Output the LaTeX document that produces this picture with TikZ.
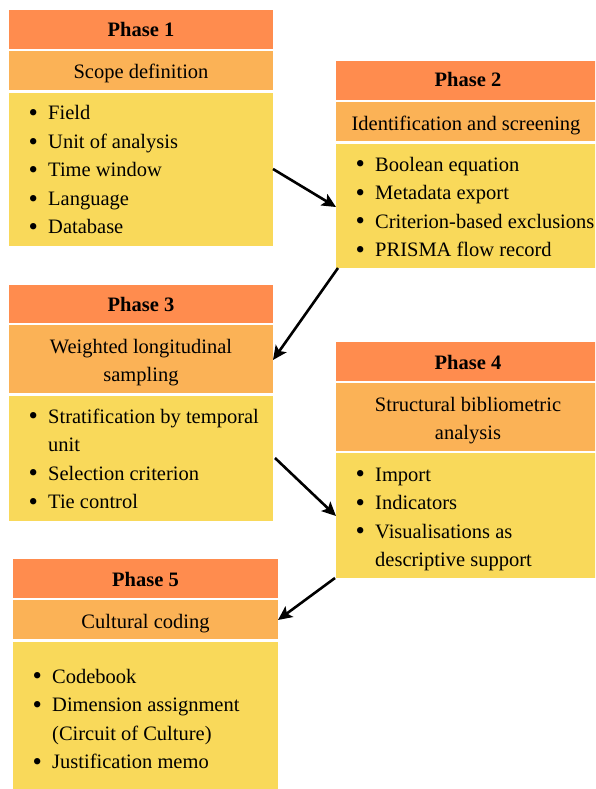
\documentclass[tikz,border=0pt]{standalone}
\usepackage{fontspec}
\setmainfont{Liberation Serif}
\usetikzlibrary{arrows.meta,calc}
\definecolor{hdrc}{RGB}{255,140,78}
\definecolor{subc}{RGB}{251,178,86}
\definecolor{bodc}{RGB}{249,217,90}
\newcommand\mybul{\makebox[19.5pt][l]{\raisebox{-1.8pt}{\scalebox{1.3}{\textbullet}}}}
\newcommand\myind{\hspace*{19.5pt}}
\begin{document}
\begin{tikzpicture}[x=1pt,y=-1pt,
  rect/.style={inner sep=0pt,outer sep=0pt,anchor=north west,draw=none},
  hdr/.style={rect,fill=hdrc},
  sub/.style={rect,fill=subc},
  bod/.style={rect,fill=bodc},
  ttl/.style={anchor=base,inner sep=0pt,font=\fontsize{20.5}{24}\selectfont\bfseries},
  stl/.style={anchor=base,inner sep=0pt,font=\fontsize{20.5}{28}\selectfont},
  lst/.style={anchor=base west,inner sep=0pt,font=\fontsize{20.5}{28.5}\selectfont},
  arr/.style={line width=2.6pt,-{Stealth[length=14pt,width=13pt,inset=3pt]}}]
\useasboundingbox (0,0) rectangle (595,789);
\clip (0,0) rectangle (595,789);
% Phase 1
\node[hdr,minimum width=264pt,minimum height=39pt] (p1h) at (9,10) {};
\node[sub,minimum width=264pt,minimum height=39pt] (p1s) at (9,51) {};
\node[bod,minimum width=264pt,minimum height=153pt] (p1b) at (9,93) {};
\node[ttl] (p1ht) at (141,37) {Phase 1};
\node[stl] (p1st) at (141,79) {Scope definition};
\node[lst] (p1bt) at (28.5,120) {\begin{tabular}[t]{@{}l@{}}
\mybul Field\\ \mybul Unit of analysis\\ \mybul Time window\\ \mybul Language\\ \mybul Database\end{tabular}};
% Phase 2
\node[hdr,minimum width=264pt,minimum height=39pt] (p2h) at (336,61) {};
\node[sub,minimum width=264pt,minimum height=39pt] (p2s) at (336,102) {};
\node[bod,minimum width=264pt,minimum height=124pt] (p2b) at (336,144) {};
\node[ttl] (p2ht) at (468,87) {Phase 2};
\node[stl] (p2st) at (466,130) {Identification and screening};
\node[lst] (p2bt) at (355.5,171) {\begin{tabular}[t]{@{}l@{}}
\mybul Boolean equation\\ \mybul Metadata export\\ \mybul Criterion-based exclusions\\ \mybul PRISMA flow record\end{tabular}};
% Phase 3
\node[hdr,minimum width=264pt,minimum height=38pt] (p3h) at (9,285) {};
\node[sub,minimum width=264pt,minimum height=68pt] (p3s) at (9,325) {};
\node[bod,minimum width=264pt,minimum height=125pt] (p3b) at (9,396) {};
\node[ttl] (p3ht) at (141,311) {Phase 3};
\node[stl] (p3st) at (141,353) {\begin{tabular}[t]{@{}c@{}}Weighted longitudinal\\ sampling\end{tabular}};
\node[lst] (p3bt) at (28.5,423) {\begin{tabular}[t]{@{}l@{}}
\mybul Stratification by temporal\\ \myind unit\\ \mybul Selection criterion\\ \mybul Tie control\end{tabular}};
% Phase 4
\node[hdr,minimum width=264pt,minimum height=39pt] (p4h) at (336,342) {};
\node[sub,minimum width=264pt,minimum height=68pt] (p4s) at (336,383) {};
\node[bod,minimum width=264pt,minimum height=125pt] (p4b) at (336,453) {};
\node[ttl] (p4ht) at (468,369) {Phase 4};
\node[stl] (p4st) at (468,411) {\begin{tabular}[t]{@{}c@{}}Structural bibliometric\\ analysis\end{tabular}};
\node[lst] (p4bt) at (355.5,481) {\begin{tabular}[t]{@{}l@{}}
\mybul Import\\ \mybul Indicators\\ \mybul Visualisations as\\ \myind descriptive support\end{tabular}};
% Phase 5
\node[hdr,minimum width=265pt,minimum height=39pt] (p5h) at (13,559) {};
\node[sub,minimum width=265pt,minimum height=39pt] (p5s) at (13,600) {};
\node[bod,minimum width=265pt,minimum height=150pt] (p5b) at (13,642) {};
\node[ttl] (p5ht) at (145.5,586) {Phase 5};
\node[stl] (p5st) at (145.5,628) {Cultural coding};
\node[lst] (p5bt) at (32.5,683) {\begin{tabular}[t]{@{}l@{}}
\mybul Codebook\\ \mybul Dimension assignment\\ \myind (Circuit of Culture)\\ \mybul Justification memo\end{tabular}};
% Arrows
\draw[arr] ($(p1b.north east)+(0,76)$) -- ($(p2b.north west)+(0,63)$);
\draw[arr] ($(p2b.south west)+(2,0)$) -- ($(p3s.north east)+(0,35)$);
\draw[arr] ($(p3b.north east)+(2,62)$) -- ($(p4b.north west)+(0,63)$);
\draw[arr] ($(p4b.south west)+(-1,0)$) -- ($(p5s.north east)+(0,20)$);
\end{tikzpicture}
\end{document}
